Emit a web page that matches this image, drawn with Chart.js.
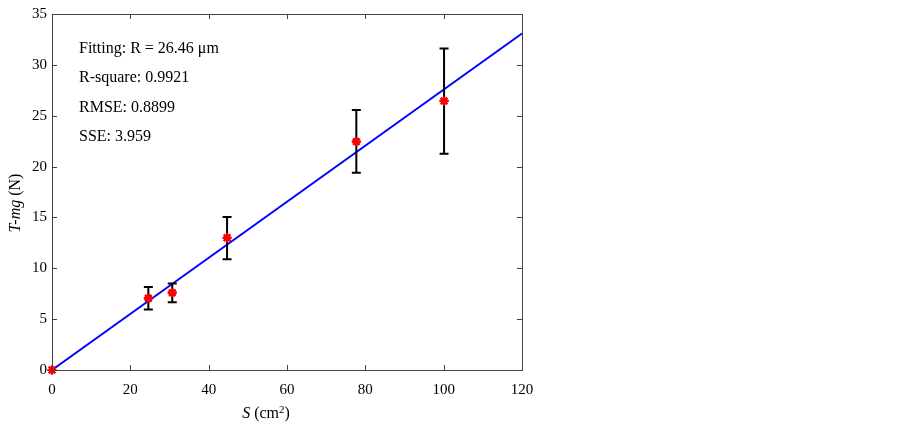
<!DOCTYPE html>
<html>
<head>
<meta charset="utf-8">
<script src="https://cdn.jsdelivr.net/npm/chart.js@4"></script>
<style>
  html, body { margin: 0; padding: 0; background: #fff; }
  #wrap { width: 903px; height: 428px; }
</style>
</head>
<body>
<div id="wrap"><canvas id="chart" width="903" height="428"></canvas></div>
<script>
/* ---------- Data ---------- */
const xValues  = [0, 24.6, 30.7, 44.7, 77.7, 100.1];   // S (cm^2)
const yValues  = [0, 7.05, 7.6, 13.0, 22.45, 26.45];   // T-mg (N)
const errLow   = [null, 5.95, 6.65, 10.9, 19.4, 21.25];
const errHigh  = [null, 8.15, 8.5, 15.05, 25.55, 31.6];
const fitX     = [0, 120];
const fitY     = [0, 33.08];
const xTicks   = [0, 20, 40, 60, 80, 100, 120];
const yTicks   = [0, 5, 10, 15, 20, 25, 30, 35];
const fitNotes = ['Fitting: R = 26.46 \u03bcm', 'R-square: 0.9921', 'RMSE: 0.8899', 'SSE: 3.959'];

const FONT = '"Liberation Serif", "Times New Roman", serif';
const AXIS_COLOR = '#444';

/* ---------- Plugins ---------- */
// box + inward ticks on all four sides (MATLAB look)
const boxPlugin = {
  id: 'box',
  afterDraw(chart) {
    const { ctx, chartArea: a, scales: { x, y } } = chart;
    ctx.save();
    ctx.strokeStyle = AXIS_COLOR;
    ctx.lineWidth = 1;
    ctx.strokeRect(a.left + 0.5, a.top + 0.5, a.right - a.left, a.bottom - a.top);
    ctx.beginPath();
    xTicks.forEach(v => {
      const px = Math.round(x.getPixelForValue(v)) + 0.5;
      ctx.moveTo(px, a.bottom); ctx.lineTo(px, a.bottom - 5);
      ctx.moveTo(px, a.top);    ctx.lineTo(px, a.top + 5);
    });
    yTicks.forEach(v => {
      const py = Math.round(y.getPixelForValue(v)) + 0.5;
      ctx.moveTo(a.left, py);  ctx.lineTo(a.left + 5, py);
      ctx.moveTo(a.right, py); ctx.lineTo(a.right - 5, py);
    });
    ctx.stroke();
    ctx.restore();
  }
};

// vertical error bars with caps
const errorBarPlugin = {
  id: 'errorBars',
  afterDatasetsDraw(chart) {
    const { ctx, scales: { x, y } } = chart;
    ctx.save();
    ctx.strokeStyle = '#000';
    ctx.lineWidth = 2;
    xValues.forEach((xv, i) => {
      if (errLow[i] == null) return;
      const px = x.getPixelForValue(xv);
      const lo = y.getPixelForValue(errLow[i]);
      const hi = y.getPixelForValue(errHigh[i]);
      ctx.beginPath();
      ctx.moveTo(px, lo); ctx.lineTo(px, hi);
      ctx.moveTo(px - 4.5, lo); ctx.lineTo(px + 4.5, lo);
      ctx.moveTo(px - 4.5, hi); ctx.lineTo(px + 4.5, hi);
      ctx.stroke();
    });
    ctx.restore();
    // redraw the stars on top of the bars
    chart.getDatasetMeta(1).data.forEach(p => p.draw(ctx, chart.chartArea));
  }
};

// annotations + axis titles (mixed italic text)
const textPlugin = {
  id: 'texts',
  afterDraw(chart) {
    const { ctx, chartArea: a } = chart;
    ctx.save();
    ctx.fillStyle = '#000';
    ctx.textBaseline = 'middle';
    ctx.textAlign = 'left';
    ctx.font = '16px ' + FONT;
    fitNotes.forEach((t, i) => ctx.fillText(t, a.left + 27, a.top + 34.5 + i * 29.5));

    // x title: S (cm²)
    const parts = [
      { t: 'S', f: 'italic 16px ' + FONT, dy: 0 },
      { t: ' (cm', f: '16px ' + FONT, dy: 0 },
      { t: '2', f: '11px ' + FONT, dy: -5 },
      { t: ')', f: '16px ' + FONT, dy: 0 }
    ];
    let w = 0;
    parts.forEach(p => { ctx.font = p.f; w += ctx.measureText(p.t).width; });
    let cx = 266 - w / 2;
    ctx.textBaseline = 'alphabetic';
    parts.forEach(p => { ctx.font = p.f; ctx.fillText(p.t, cx, 418 + p.dy); cx += ctx.measureText(p.t).width; });

    // y title: T-mg (N)
    const yparts = [
      { t: 'T-mg', f: 'italic 16px ' + FONT },
      { t: ' (N)', f: '16px ' + FONT }
    ];
    w = 0;
    yparts.forEach(p => { ctx.font = p.f; w += ctx.measureText(p.t).width; });
    ctx.translate(20, 203);
    ctx.rotate(-Math.PI / 2);
    cx = -w / 2;
    yparts.forEach(p => { ctx.font = p.f; ctx.fillText(p.t, cx, 0); cx += ctx.measureText(p.t).width; });
    ctx.restore();
  }
};

/* ---------- Chart ---------- */
new Chart(document.getElementById('chart'), {
  type: 'scatter',
  data: {
    datasets: [
      {
        type: 'line',
        label: 'Fit',
        data: fitX.map((v, i) => ({ x: v, y: fitY[i] })),
        borderColor: '#0000ff',
        borderWidth: 2,
        pointRadius: 0,
        fill: false
      },
      {
        label: 'Data',
        data: xValues.map((v, i) => ({ x: v, y: yValues[i] })),
        pointStyle: 'star',
        pointRadius: 4.5,
        borderColor: '#ff0000',
        backgroundColor: '#ff0000',
        borderWidth: 2.2
      }
    ]
  },
  options: {
    responsive: false,
    animation: false,
    clip: false,
    layout: { padding: { top: 11, right: 381, left: 0, bottom: 0 } },
    plugins: { legend: { display: false }, tooltip: { enabled: false } },
    scales: {
      x: {
        type: 'linear',
        min: 0, max: 120,
        afterBuildTicks: s => { s.ticks = xTicks.map(v => ({ value: v })); },
        afterFit: s => { s.height = 58; },
        grid: { display: false, drawTicks: false },
        border: { display: false },
        ticks: { color: '#000', font: { family: FONT, size: 15 }, padding: 11, maxRotation: 0 }
      },
      y: {
        type: 'linear',
        min: 0, max: 35,
        afterBuildTicks: s => { s.ticks = yTicks.map(v => ({ value: v })); },
        afterFit: s => { s.width = 52; },
        grid: { display: false, drawTicks: false },
        border: { display: false },
        ticks: { color: '#000', font: { family: FONT, size: 15 }, padding: 5 }
      }
    }
  },
  plugins: [boxPlugin, errorBarPlugin, textPlugin]
});
</script>
</body>
</html>
